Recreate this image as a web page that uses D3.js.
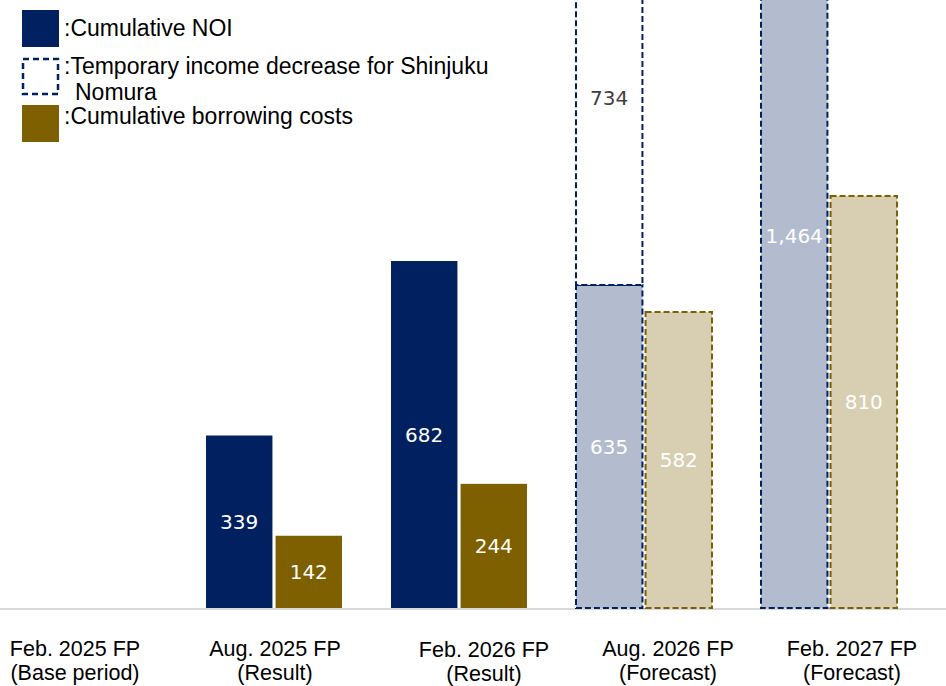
<!DOCTYPE html>
<html>
<head>
<meta charset="utf-8">
<script src="https://cdn.jsdelivr.net/npm/d3@7"></script>
<style>
  body { margin: 0; background: #fff; }
  svg { display: block; }
</style>
</head>
<body>
<svg id="chart" width="946" height="686"></svg>
<script>
// data
var periods = ["Feb. 2025 FP", "Aug. 2025 FP", "Feb. 2026 FP", "Aug. 2026 FP", "Feb. 2027 FP"];
var subLabels = ["(Base period)", "(Result)", "(Result)", "(Forecast)", "(Forecast)"];
var noi = [0, 339, 682, 635, 1464];
var tempDecrease = [0, 0, 0, 734, 0];
var borrowing = [0, 142, 244, 582, 810];
var isForecast = [false, false, false, true, true];

var legendItems = [
    { key: "noi", lines: [":Cumulative NOI"] },
    { key: "temp", lines: [":Temporary income decrease for Shinjuku", "Nomura"] },
    { key: "cost", lines: [":Cumulative borrowing costs"] }
];

var NAVY = "#002060", BROWN = "#7f6000";
var NAVY_LIGHT = "#b3bbcf", BROWN_LIGHT = "#d8cfb2";

var svg = d3.select("#chart"),
    width = +svg.attr("width"),
    height = +svg.attr("height");

var baseY = 608;

var x0 = d3.scaleBand()
    .domain(periods)
    .range([-3.5, 921.5])
    .paddingInner(0.265)
    .paddingOuter(0.1325);

var x1 = d3.scaleBand()
    .domain(["noi", "cost"])
    .range([0, x0.bandwidth()])
    .paddingInner(0.045);

var y = d3.scaleLinear()
    .domain([0, 1195])
    .range([baseY, 0]);

// axis line
svg.append("line")
    .attr("x1", 0).attr("x2", width)
    .attr("y1", baseY + 1).attr("y2", baseY + 1)
    .attr("stroke", "#d9d9d9")
    .attr("stroke-width", 2);

var rows = periods.map(function(p, i) {
    return { period: p, noi: noi[i], temp: tempDecrease[i], cost: borrowing[i], forecast: isForecast[i] };
});

var groups = svg.append("g").selectAll("g")
    .data(rows)
    .enter().append("g")
    .attr("transform", function(d) { return "translate(" + x0(d.period) + ",0)"; });

function addBar(g, key, lo, hi, fill, stroke, dashed, labelText, labelColor) {
    if (hi - lo <= 0) return;
    var bx = x1(key), bw = x1.bandwidth();
    var r = g.append("rect")
        .attr("x", bx)
        .attr("y", y(hi))
        .attr("width", bw)
        .attr("height", y(lo) - y(hi))
        .attr("fill", fill);
    if (dashed) {
        r.attr("stroke", stroke)
            .attr("stroke-width", 2)
            .attr("stroke-dasharray", "6,3");
    }
    g.append("text")
        .attr("x", bx + bw / 2)
        .attr("y", (y(lo) + y(hi)) / 2)
        .attr("dy", "0.36em")
        .attr("text-anchor", "middle")
        .attr("font-family", "'DejaVu Sans', Verdana, sans-serif")
        .attr("font-size", 20)
        .attr("fill", labelColor)
        .text(labelText);
}

groups.each(function(d) {
    var g = d3.select(this);
    var fmt = d3.format(",");
    if (d.forecast) {
        addBar(g, "noi", 0, d.noi, NAVY_LIGHT, NAVY, true, fmt(d.noi), "#fff");
        addBar(g, "noi", d.noi, d.noi + d.temp, "#fff", NAVY, true, fmt(d.temp), "#404040");
        addBar(g, "cost", 0, d.cost, BROWN_LIGHT, BROWN, true, fmt(d.cost), "#fff");
    } else {
        addBar(g, "noi", 0, d.noi, NAVY, null, false, fmt(d.noi), "#fff");
        addBar(g, "cost", 0, d.cost, BROWN, null, false, fmt(d.cost), "#fff");
    }
});

// category labels (slightly shifted like the original slide)
var labelDx = [-14, 1, 25, 24, 23];
var labelDy = [0, 0, 1, 0, 0];
var catLabels = svg.append("g")
    .attr("font-family", "'Liberation Sans', Arial, sans-serif")
    .attr("font-size", 21.5)
    .attr("fill", "#000")
    .attr("text-anchor", "middle");

periods.forEach(function(p, i) {
    var cx = x0(p) + x0.bandwidth() / 2 + labelDx[i];
    var t = catLabels.append("text")
        .attr("y", 656 + labelDy[i]);
    t.append("tspan").attr("x", cx).text(p);
    t.append("tspan").attr("x", cx).attr("dy", 24).text(subLabels[i]);
});

// legend
var legend = svg.append("g")
    .attr("font-family", "'Liberation Sans', Arial, sans-serif")
    .attr("font-size", 23)
    .attr("fill", "#000");

var legendTop = [10, 58, 105];
var textBase = [36, 74, 124];
legendItems.forEach(function(item, i) {
    var sq = legend.append("rect")
        .attr("x", 22).attr("y", legendTop[i])
        .attr("width", 37).attr("height", 37);
    if (item.key === "noi") sq.attr("fill", NAVY);
    else if (item.key === "cost") sq.attr("fill", BROWN);
    else {
        sq.attr("x", 23).attr("y", legendTop[i] + 1)
            .attr("width", 35).attr("height", 35)
            .attr("fill", "#fff").attr("stroke", NAVY)
            .attr("stroke-width", 2.5).attr("stroke-dasharray", "6,4");
    }
    var t = legend.append("text").attr("y", textBase[i]);
    item.lines.forEach(function(line, j) {
        t.append("tspan")
            .attr("x", j === 0 ? 64 : 75)
            .attr("dy", j === 0 ? 0 : 26)
            .text(line);
    });
});
</script>
</body>
</html>
